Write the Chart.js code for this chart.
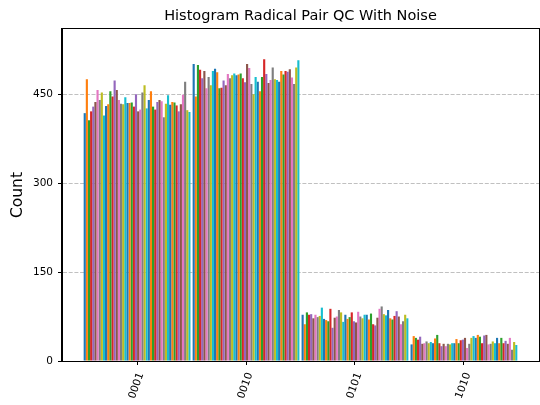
<!DOCTYPE html>
<html><head><meta charset="utf-8">
<script src="https://cdn.jsdelivr.net/npm/chart.js@4/dist/chart.umd.min.js"></script>
<style>html,body{margin:0;padding:0;background:#fff;}</style>
</head><body>
<canvas id="c" width="540" height="405"></canvas>
<script>
const categories = ['0001', '0010', '0101', '1010'];

const counts0001 = [418, 475, 406, 421, 429, 437, 457, 440, 453, 414,
                    430, 433, 455, 446, 473, 457, 440, 434, 433, 445,
                    435, 435, 436, 429, 450, 421, 424, 453, 465, 426,
                    440, 455, 429, 424, 437, 440, 438, 411, 434, 448,
                    432, 437, 436, 431, 421, 433, 449, 471, 423, 420];
const counts0010 = [501, 446, 499, 491, 477, 489, 460, 479, 465, 489,
                    493, 487, 460, 461, 473, 465, 484, 477, 482, 485,
                    482, 483, 485, 477, 470, 501, 494, 467, 450, 479,
                    471, 455, 479, 509, 484, 469, 474, 495, 475, 474,
                    471, 489, 483, 489, 488, 492, 478, 467, 495, 507];
const counts0101 = [78, 62, 82, 78, 79, 72, 78, 74, 76, 90,
                    71, 69, 67, 88, 56, 73, 75, 86, 82, 66,
                    78, 71, 74, 82, 67, 65, 83, 75, 72, 78,
                    78, 70, 80, 62, 60, 73, 88, 92, 79, 77,
                    86, 72, 70, 76, 84, 75, 62, 67, 78, 72];
const counts1010 = [28, 42, 39, 36, 41, 29, 30, 33, 30, 32,
                    30, 38, 44, 30, 25, 29, 25, 29, 28, 30,
                    30, 37, 30, 35, 36, 39, 22, 29, 39, 42,
                    39, 44, 41, 30, 43, 44, 28, 29, 33, 30,
                    39, 30, 39, 30, 34, 29, 39, 19, 32, 27];

const yTickValues = [0, 150, 300, 450];
const palette = ['#1f77b4', '#ff7f0e', '#2ca02c', '#d62728', '#9467bd',
                 '#8c564b', '#e377c2', '#7f7f7f', '#bcbd22', '#17becf'];

const byCategory = [counts0001, counts0010, counts0101, counts1010];
const seriesCount = counts0001.length;
const datasets = [];
for (let s = 0; s < seriesCount; s++) {
  datasets.push({
    label: 'Execution ' + (s + 1),
    data: byCategory.map((arr, i) => ({ x: i, y: arr[s] })),
    backgroundColor: palette[s % palette.length],
    borderWidth: 0,
    categoryPercentage: seriesCount / (seriesCount + 1),
    barPercentage: 1
  });
}
const yMax = Math.max(...byCategory.flat()) * 1.1;

const FONT = 'DejaVu Sans';

const framePlugin = {
  id: 'frame',
  beforeDraw(chart) {
    const ctx = chart.ctx;
    ctx.save();
    ctx.fillStyle = '#fff';
    ctx.fillRect(0, 0, chart.width, chart.height);
    ctx.restore();
  },
  afterDatasetsDraw(chart) {
    const a = chart.chartArea, ctx = chart.ctx;
    ctx.save();
    ctx.strokeStyle = '#000';
    ctx.lineWidth = 1;
    ctx.strokeRect(Math.round(a.left) - 0.5, Math.round(a.top) - 0.5,
                   Math.round(a.right - a.left) + 1, Math.round(a.bottom - a.top) + 1);
    ctx.restore();
  }
};

new Chart(document.getElementById('c'), {
  type: 'bar',
  data: { datasets },
  options: {
    responsive: false,
    animation: false,
    events: [],
    layout: { padding: { left: 0, right: 1, top: 0, bottom: 0 } },
    plugins: {
      legend: { display: false },
      tooltip: { enabled: false },
      title: {
        display: true,
        fullSize: false,
        text: 'Histogram Radical Pair QC With Noise',
        color: '#000',
        font: { family: FONT, size: 14.5, weight: 'normal' },
        padding: { top: 8, bottom: 3.6 }
      }
    },
    scales: {
      x: {
        type: 'linear',
        min: -0.689,
        max: 3.689,
        offset: false,
        afterBuildTicks: s => { s.ticks = categories.map((c, i) => ({ value: i })); },
        afterFit: s => { s.height = 44; },
        ticks: {
          callback: v => categories[v],
          autoSkip: false,
          minRotation: 70,
          maxRotation: 70,
          color: '#000',
          font: { family: FONT, size: 10.5 },
          padding: 6,
          labelOffset: 4
        },
        grid: { offset: false, drawOnChartArea: false, drawTicks: true, tickLength: 4, tickColor: '#000' },
        border: { display: true, color: '#000', width: 1 }
      },
      y: {
        min: 0,
        max: yMax,
        afterBuildTicks: s => { s.ticks = yTickValues.map(v => ({ value: v })); },
        afterFit: s => { s.width = 62; },
        ticks: {
          color: '#000',
          font: { family: FONT, size: 10.5 },
          padding: 5
        },
        grid: {
          color: c => (c.tick && c.tick.value === 0) ? 'rgba(0,0,0,0)' : '#c0c0c0',
          lineWidth: 1,
          tickLength: 4,
          tickColor: '#000',
          tickBorderDash: []
        },
        border: { display: true, color: '#000', width: 1, dash: [4, 1.7] },
        title: {
          display: true,
          text: 'Count',
          color: '#000',
          font: { family: FONT, size: 15.5 },
          padding: { top: 9, bottom: 0 }
        }
      }
    }
  },
  plugins: [framePlugin]
});
</script>
</body></html>
